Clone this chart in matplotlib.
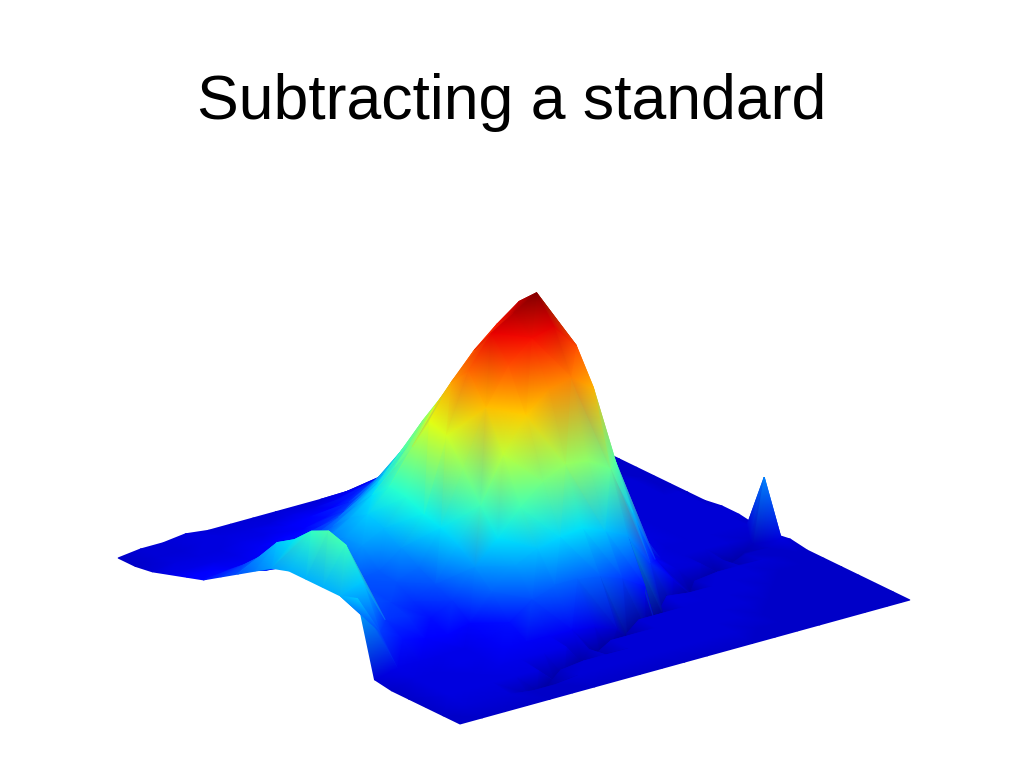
import numpy as np
import matplotlib
matplotlib.use("Agg")
import matplotlib.pyplot as plt
from matplotlib.tri import Triangulation

TITLE = "Subtracting a standard"

# Surface axes (both run 0..1 across the square base)
u_values = [0, .05, .10, .15, .20, .25, .30, .35, .40, .45, .50, .55, .60, .65, .70, .75, .80, .85, .90, .95, .98, 1]
v_values = [0, .05, .10, .15, .20, .25, .30, .35, .40, .45, .50, .55, .60, .65, .70, .75, .80, .85, .90, .95, 1]

# Heights, in hundredths of the peak; one row per v
z_rows = [
    [ 0,  0,  0,  0,  0,  0,  0,  0,  0,  0,  0,  0,  0,  0,  0,  0,  0,  0,  0,  0,  0,  0],
    [ 0,  1,  1,  1,  0,  0,  1,  1,  1,  1,  1,  1,  1,  1,  0,  0,  0,  0,  0,  0,  0,  0],
    [ 0,  2,  2,  2,  2,  2,  0,  1,  1,  1,  1,  1,  1,  1,  1,  0,  0,  0,  0,  0,  0,  0],
    [ 0,  2,  2,  2,  3,  3,  3,  3,  0,  1,  1,  1,  1,  1,  1,  1,  0,  0,  0,  0,  0,  0],
    [ 0,  2,  2,  3,  3,  4,  4,  4,  4,  3,  0,  1,  1,  1,  1,  1,  1,  0,  0,  0,  0,  0],
    [ 1,  3,  3,  3,  3,  4,  8, 14, 17, 17, 16, 13,  8,  2,  1,  1,  1,  1,  0,  0,  0,  0],
    [27, 13,  8,  6,  5,  7, 16, 23, 27, 29, 30, 27, 23, 11,  3,  0,  1,  1,  1,  0,  0,  0],
    [25, 28, 12, 11,  8, 12, 22, 30, 39, 46, 50, 49, 44, 26,  7,  1,  1,  0,  0,  0,  2,  1],
    [25, 38, 15, 13, 11, 15, 27, 39, 55, 67, 74, 76, 70, 41, 10,  2,  1,  1,  1,  0, 21,  0],
    [25, 40, 17, 14, 15, 18, 30, 49, 69, 82, 89, 91, 82, 52, 20,  3,  1,  1,  1,  1,  1,  0],
    [25, 37, 18, 15, 16, 22, 32, 58, 79, 90, 95, 100, 87, 50, 18,  4,  2,  1,  1,  1,  1,  1],
    [23, 31, 18, 15, 22, 26, 35, 60, 72, 81, 88, 94, 84, 50, 15,  5,  2,  1,  1,  1,  1,  1],
    [19, 27, 17, 19, 22, 28, 36, 48, 60, 69, 77, 84, 76, 42, 12,  4,  2,  1,  1,  1,  1,  0],
    [15, 19, 13, 14, 19, 24, 30, 38, 47, 57, 66, 72, 62, 30,  9,  3,  1,  1,  1,  1,  1,  0],
    [11, 13,  9, 10, 14, 18, 23, 29, 38, 47, 55, 60, 50, 20,  6,  2,  1,  1,  1,  1,  0,  0],
    [ 7,  8,  6,  7,  9, 12, 16, 21, 27, 35, 42, 47, 32, 12,  4,  2,  1,  1,  1,  1,  0,  0],
    [ 5,  5,  4,  4,  6,  8, 10, 13, 18, 24, 30, 33, 20,  8,  3,  1,  1,  1,  1,  0,  0,  0],
    [ 3,  3,  3,  3,  4,  5,  6,  8, 11, 15, 20, 24, 12,  5,  2,  1,  1,  1,  0,  0,  0,  0],
    [ 1,  2,  2,  2,  3,  3,  4,  5,  6,  9, 12, 15,  7,  3,  1,  1,  1,  0,  0,  0,  0,  0],
    [ 0,  1,  1,  2,  2,  2,  2,  3,  3,  4,  6,  8,  5,  2,  1,  0,  0,  0,  0,  0,  0,  0],
    [ 0,  1,  1,  2,  1,  1,  1,  1,  1,  1,  1,  1,  1,  0,  0,  0,  0,  0,  0,  0,  0,  0],
]

# The narrow dark trench that crosses the flat part of the surface
trench_u = [.20, .23, .26, .29, .32, .35, .38, .41, .44, .47, .50, .53, .56,
            .59, .62, .65, .68, .71, .74, .77, .80, .83, .86, .89, .92, .95]
trench_v = [.065, .078, .091, .104, .117, .130, .144, .157, .170, .183, .196, .209, .222,
            .235, .248, .262, .275, .288, .301, .314, .327, .340, .353, .366, .379, .392]
trench_z = [-2, -3, -4, -4, -4, -4, -4, -4, -5, -5, -5, -5, -5,
            -5, -5, -5, -4, -4, -4, -4, -4, -3, -3, -3, -2, -1]

# Oblique view of the box, in figure pixels
ORIGIN = (460, 724)
U_AXIS = (450, -124)
V_AXIS = (-342, -166)
Z_AXIS = (0, -280)

U, V = np.meshgrid(u_values, v_values)
Z = np.array(z_rows, dtype=float)
u = np.concatenate([U.ravel(), trench_u])
v = np.concatenate([V.ravel(), trench_v])
z = np.concatenate([Z.ravel(), trench_z]) / 100.0

sx = ORIGIN[0] + U_AXIS[0] * u + V_AXIS[0] * v + Z_AXIS[0] * z
sy = ORIGIN[1] + U_AXIS[1] * u + V_AXIS[1] * v + Z_AXIS[1] * z

# Triangles over the base, painted from the back of the surface forwards
tris = Triangulation(u, v).triangles
depth = (0.6 * u + 0.8 * v) * 0.93 - 0.37 * z
tris = tris[np.argsort(-depth[tris].mean(axis=1))]

fig = plt.figure(figsize=(10.24, 7.68), dpi=100, facecolor="white")
ax = fig.add_axes([0, 0, 1, 1])
ax.tripcolor(Triangulation(sx, sy, tris), z, shading="gouraud", cmap="jet", vmin=-0.07, vmax=1.0)
ax.set_xlim(0, 1024)
ax.set_ylim(768, 0)
ax.axis("off")

fig.text(0.5, 1 - 119 / 768, TITLE, ha="center", va="baseline",
         family=["Liberation Sans", "DejaVu Sans"], fontsize=45, color="black")

fig.savefig("out.png", dpi=100)
